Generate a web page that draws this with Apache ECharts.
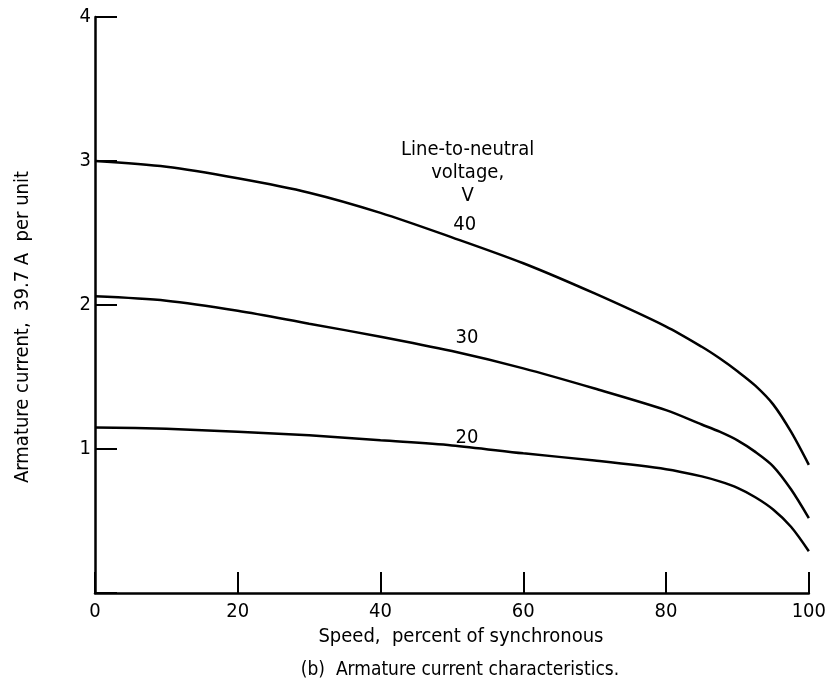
<!DOCTYPE html>
<html>
<head>
<meta charset="utf-8">
<script src="https://cdn.jsdelivr.net/npm/echarts@6/dist/echarts.min.js"></script>
<style>
  html, body { margin: 0; padding: 0; background: #fff; }
  #chart { width: 829px; height: 683px; }
</style>
</head>
<body>
<div id="chart"></div>
<script>
// speed, percent of synchronous
const speed = [0, 10, 20, 30, 40, 50, 60, 70, 80, 85, 87.5, 90, 92.5, 95, 97.5, 100];
// armature current, per unit, one list per line-to-neutral voltage
const v40 = [3.00, 2.96, 2.88, 2.78, 2.64, 2.47, 2.29, 2.08, 1.85, 1.71, 1.63, 1.54, 1.44, 1.31, 1.12, 0.89];
const v30 = [2.06, 2.03, 1.96, 1.87, 1.78, 1.68, 1.56, 1.42, 1.27, 1.17, 1.12, 1.06, 0.98, 0.88, 0.72, 0.52];
const v20 = [1.15, 1.14, 1.12, 1.095, 1.06, 1.025, 0.97, 0.92, 0.86, 0.81, 0.775, 0.73, 0.665, 0.58, 0.46, 0.29];
const xTicks = [0, 20, 40, 60, 80, 100];
const yTicks = [1, 2, 3, 4];

const font = "'Liberation Sans Narrow', 'DejaVu Sans Condensed', 'Liberation Sans', sans-serif";

function pairs(ys) {
  return speed.map(function (s, i) { return [s, ys[i]]; });
}

// curve label, sits a bit above the line near 52 % speed
function curveTag(items) {
  return {
    symbol: 'circle',
    symbolSize: 0,
    silent: true,
    data: items,
    label: {
      show: true,
      position: 'inside',
      color: '#000',
      fontFamily: font,
      fontSize: 20,
      lineHeight: 23
    }
  };
}

function lineSeries(name, ys, tag) {
  return {
    name: name,
    type: 'line',
    data: pairs(ys),
    smooth: 0.3,
    showSymbol: false,
    lineStyle: { color: '#000', width: 2.5 },
    markPoint: tag
  };
}

const chart = echarts.init(document.getElementById('chart'), null, { renderer: 'canvas' });

const option = {
  backgroundColor: '#fff',
  animation: false,
  grid: { left: 95, right: 12, top: 17, bottom: 90 },
  xAxis: {
    type: 'value',
    min: 0,
    max: 100,
    interval: 20,
    name: 'Speed,  percent of synchronous',
    nameLocation: 'middle',
    nameGap: 28,
    nameTextStyle: { color: '#000', fontFamily: font, fontSize: 20, padding: [0, 0, 0, 18] },
    axisLine: { lineStyle: { color: '#000', width: 2.5 } },
    axisTick: { inside: true, length: 21, lineStyle: { color: '#000', width: 2 } },
    axisLabel: {
      color: '#000', fontFamily: font, fontSize: 20, margin: 9,
      formatter: function (v) { return xTicks.indexOf(v) >= 0 ? String(v) : ''; }
    },
    splitLine: { show: false }
  },
  yAxis: {
    type: 'value',
    min: 0,
    max: 4,
    interval: 1,
    name: 'Armature current,  39.7 A  per unit',
    nameLocation: 'middle',
    nameRotate: 90,
    nameGap: 62,
    nameTextStyle: { color: '#000', fontFamily: font, fontSize: 20, padding: [0, 44, 0, 0] },
    axisLine: { lineStyle: { color: '#000', width: 2.5 } },
    axisTick: { inside: true, length: 22, lineStyle: { color: '#000', width: 2 } },
    axisLabel: {
      color: '#000', fontFamily: font, fontSize: 20, margin: 4,
      formatter: function (v) { return yTicks.indexOf(v) >= 0 ? String(v) : ''; }
    },
    splitLine: { show: false }
  },
  series: [
    lineSeries('40', v40, curveTag([
      { coord: [51.8, 2.56], label: { formatter: '40' } },
      { coord: [52.2, 2.92], label: { formatter: 'Line-to-neutral\nvoltage,\nV' } }
    ])),
    lineSeries('30', v30, curveTag([{ coord: [52.1, 1.77], label: { formatter: '30' } }])),
    lineSeries('20', v20, curveTag([{ coord: [52.1, 1.08], label: { formatter: '20' } }]))
  ],
  graphic: [
    {
      type: 'text',
      x: 460,
      y: 670,
      style: {
        text: '(b)  Armature current characteristics.',
        fill: '#000',
        font: '19px ' + font,
        textAlign: 'center',
        textVerticalAlign: 'middle'
      }
    }
  ]
};

chart.setOption(option);
window.addEventListener('resize', function () { chart.resize(); });
</script>
</body>
</html>
